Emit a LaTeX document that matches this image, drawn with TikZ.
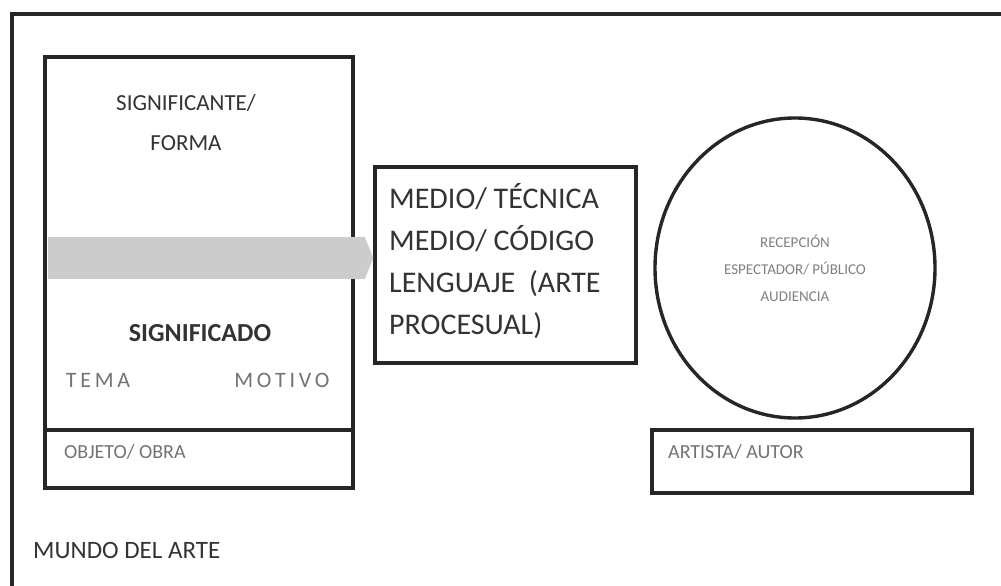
\documentclass[tikz,border=0pt]{standalone}
\usepackage{fontspec}
\setmainfont{Carlito}
\usetikzlibrary{positioning}
\usetikzlibrary{shapes.geometric}
\usetikzlibrary{arrows.meta}

\tikzset{caja/.style={draw=black!85, line width=3.4pt, inner sep=0pt},
         texto/.style={text=black!80, inner sep=0pt},
         tenue/.style={text=black!55, inner sep=0pt},
         flecha/.style={line width=42pt, draw=black!20, -{Triangle[length=9pt,width=44pt]}}}

\begin{document}
\begin{tikzpicture}[x=1pt,y=-1pt]
        \useasboundingbox (0,0) rectangle (1001,586);
        \clip (0,0) rectangle (1001,586);
        \fill[white] (0,0) rectangle (1001,586);
        % mundo del arte
        \draw[line width=3.4pt, black!85] (1010,14) -- (12,14) -- (12,600);
        \node[texto, anchor=west, font=\fontsize{25}{30}\selectfont] (mundo) at (33,550) {MUNDO DEL ARTE};
        % obra
        \node[caja, minimum width=308, minimum height=431] (obra) at (199,272.5) {};
        \coordinate (div) at (0,430);
        \draw[line width=3.4pt, black!85] (obra.west |- div) -- (obra.east |- div);
        \node[texto, align=center, font=\fontsize{23}{40}\selectfont] (forma) at (186,123) {SIGNIFICANTE/\\FORMA};
        \node[texto, font=\fontsize{26}{30}\selectfont\bfseries] (signif) at (200,333) {SIGNIFICADO};
        \node[tenue, font=\fontsize{22}{26}\selectfont] (tema) at (98,380) {T\,E\,M\,A};
        \node[tenue, font=\fontsize{22}{26}\selectfont] (motivo) at (282,380) {M\,O\,T\,I\,V\,O};
        \node[tenue, anchor=west, font=\fontsize{20}{24}\selectfont] (objeto) at (64,452) {OBJETO/ OBRA};
        % medio
        \node[caja, inner xsep=15pt, text width=231pt, minimum height=196, align=left,
              text=black!80, font=\fontsize{30}{42}\selectfont] (medio) at (505.5,265) {};
        \node[texto, anchor=north west, align=left, font=\fontsize{30}{42}\selectfont] (medtxt)
              at (389,183) {MEDIO/ TÉCNICA\\MEDIO/ CÓDIGO\\LENGUAJE\ \ (ARTE\\PROCESUAL)};
        % recepcion
        \node[draw=black!85, line width=3.4pt, ellipse, minimum width=280, minimum height=300,
              align=center, text=black!50, font=\fontsize{15}{27}\selectfont] (recep) at (795,268)
              {RECEPCIÓN\\ESPECTADOR/ PÚBLICO\\AUDIENCIA};
        % artista
        \node[caja, minimum width=320, minimum height=63] (artista) at (812,461.5) {};
        \node[tenue, anchor=west, font=\fontsize{20}{24}\selectfont] (autor) at (668,452) {ARTISTA/ AUTOR};
        % flecha
        \coordinate (ini) at (48,258);
        \draw[flecha] (ini) -- (ini -| medio.west);
\end{tikzpicture}
\end{document}
